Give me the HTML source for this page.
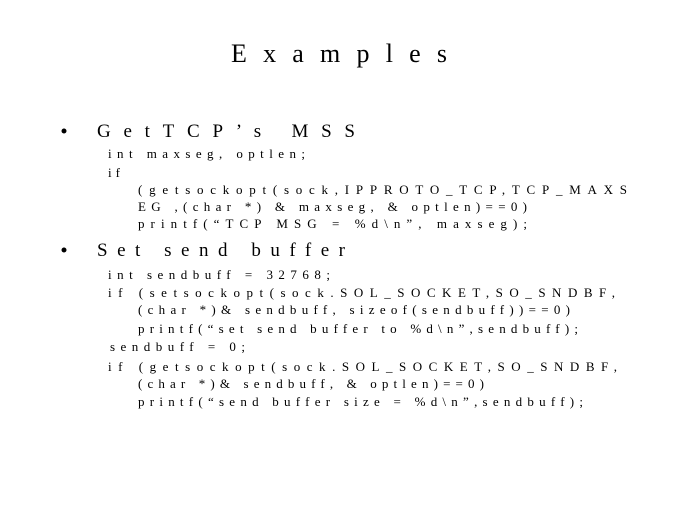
<!DOCTYPE html>
<html><head><meta charset="utf-8"><style>
html,body{margin:0;padding:0;background:#fff;}
svg{display:block;}
text{font-family:"Liberation Serif",serif;fill:#000;}
.c{font-size:13px;}
.h{font-size:19px;}
</style></head><body>
<svg width="700" height="520" xmlns="http://www.w3.org/2000/svg">
<text x="231" y="62" font-size="26" textLength="216" lengthAdjust="spacing">Examples</text>
<circle cx="64" cy="131" r="2.5" fill="#000"/>
<text class="h" x="97" y="137" textLength="258" lengthAdjust="spacing">GetTCP’s MSS</text>
<text class="c" x="108" y="158" textLength="197" lengthAdjust="spacing">int maxseg, optlen;</text>
<text class="c" x="108" y="177" textLength="12" lengthAdjust="spacing">if</text>
<text class="c" x="138" y="194" textLength="489" lengthAdjust="spacing">(getsockopt(sock,IPPROTO_TCP,TCP_MAXS</text>
<text class="c" x="138" y="211" textLength="389" lengthAdjust="spacing">EG ,(char *) &amp; maxseg, &amp; optlen)==0)</text>
<text class="c" x="138" y="228" textLength="389" lengthAdjust="spacing">printf(“TCP MSG = %d\n”, maxseg);</text>
<circle cx="64" cy="250" r="2.5" fill="#000"/>
<text class="h" x="97" y="256" textLength="248" lengthAdjust="spacing">Set send buffer</text>
<text class="c" x="108" y="279" textLength="222" lengthAdjust="spacing">int sendbuff = 32768;</text>
<text class="c" x="108" y="297" textLength="507" lengthAdjust="spacing">if (setsockopt(sock.SOL_SOCKET,SO_SNDBF,</text>
<text class="c" x="138" y="314" textLength="432" lengthAdjust="spacing">(char *)&amp; sendbuff, sizeof(sendbuff))==0)</text>
<text class="c" x="138" y="333" textLength="440" lengthAdjust="spacing">printf(“set send buffer to %d\n”,sendbuff);</text>
<text class="c" x="110" y="351" textLength="135" lengthAdjust="spacing">sendbuff = 0;</text>
<text class="c" x="108" y="371" textLength="509" lengthAdjust="spacing">if (getsockopt(sock.SOL_SOCKET,SO_SNDBF,</text>
<text class="c" x="138" y="388" textLength="346" lengthAdjust="spacing">(char *)&amp; sendbuff, &amp; optlen)==0)</text>
<text class="c" x="138" y="406" textLength="445" lengthAdjust="spacing">printf(“send buffer size = %d\n”,sendbuff);</text>
</svg>
</body></html>
